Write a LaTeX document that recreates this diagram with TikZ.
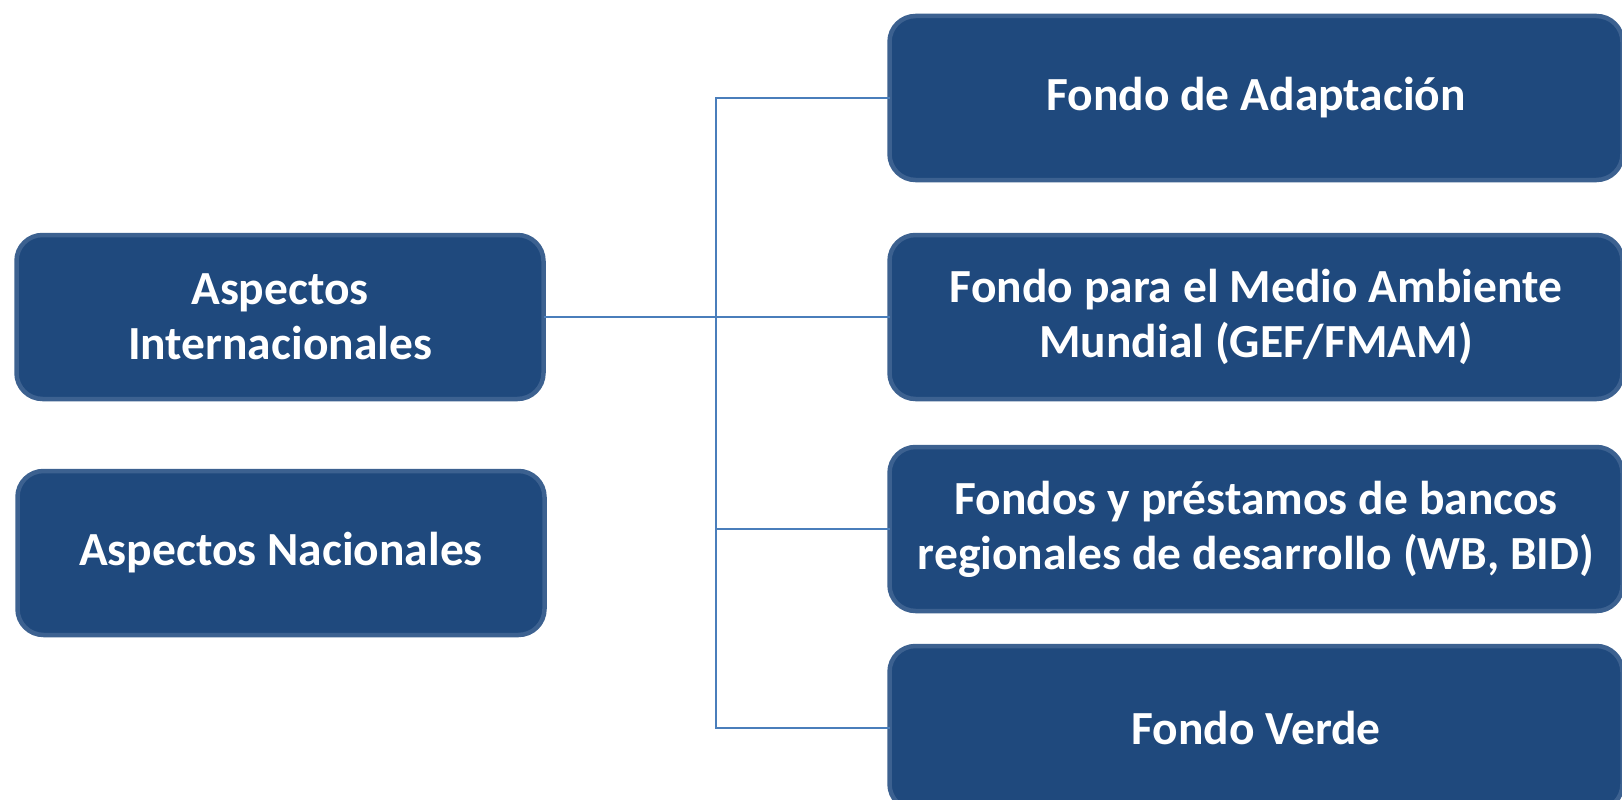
\documentclass[tikz,border=0pt]{standalone}
\usepackage{fontspec}
\setmainfont{Carlito}
\definecolor{boxfill}{HTML}{1F497D}
\definecolor{boxline}{HTML}{3C6190}
\definecolor{conn}{HTML}{4A7EBB}
\tikzset{
  fbox/.style={draw=boxline, fill=boxfill, line width=4.5pt, rounded corners=26pt,
    text=white, font=\fontsize{47.5}{55}\selectfont\bfseries, align=center,
    execute at begin node={\spaceskip=0.23em\relax},
    inner sep=0pt, outer sep=0pt, minimum height=164pt},
  leftbox/.style={fbox, minimum width=527pt, text width=510pt},
  rightbox/.style={fbox, minimum width=733pt, text width=725pt},
  link/.style={draw=conn, line width=2pt}
}
\begin{document}
\begin{tikzpicture}[x=1pt,y=-1pt]
\clip (0,0) rectangle (1622,800);
\fill[white] (0,0) rectangle (1622,800);
\node[leftbox] (L1) at (280,317) {Aspectos\\Internacionales};
\node[leftbox] (L2) at (281,553) {Aspectos Nacionales};
\node[rightbox] (R1) at (1256,98) {Fondo de Adaptación};
\node[rightbox] (R2) at (1256,317) {Fondo para el Medio Ambiente\\Mundial (GEF/FMAM)};
\node[rightbox] (R3) at (1256,529) {Fondos y préstamos de bancos\\regionales de desarrollo (WB, BID)};
\node[rightbox] (R4) at (1256,728) {Fondo Verde};
\coordinate (J) at (716,317);
\draw[link] (L1.east) -- (R2.west);
\draw[link] (J) |- (R1.west);
\draw[link] (J) |- (R3.west);
\draw[link] (J) |- (R4.west);
\end{tikzpicture}
\end{document}
